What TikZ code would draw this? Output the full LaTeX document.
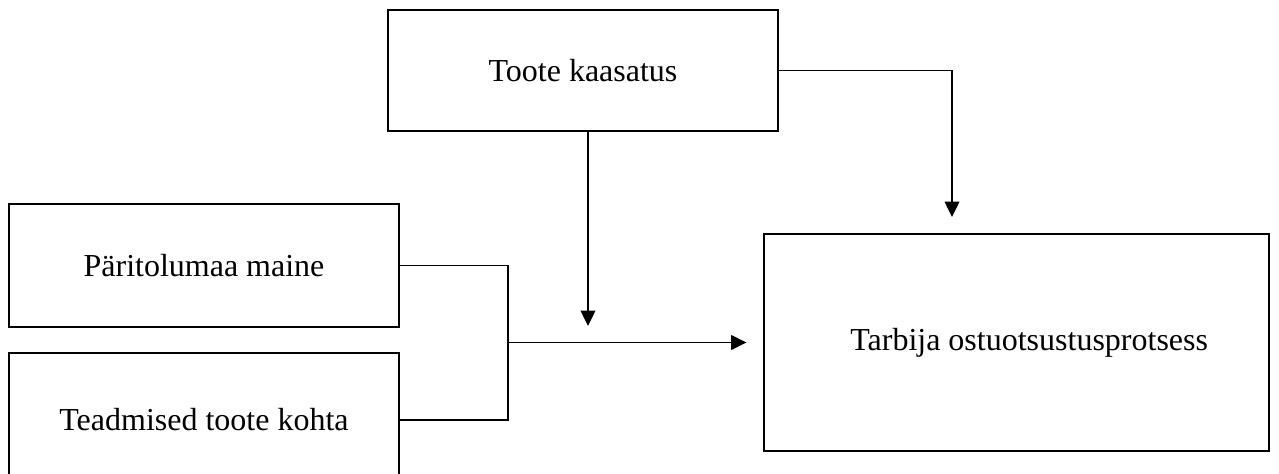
\documentclass[tikz,border=0pt]{standalone}
\usepackage{fontspec}
\setmainfont{Liberation Serif}
\usetikzlibrary{arrows.meta}
\tikzset{
  box/.style={draw, line width=2.2pt, inner sep=0pt, align=center,
    font=\fontsize{24}{28}\selectfont},
  conn/.style={line width=1pt},
  arr/.style={conn, -{Triangle[width=11pt,length=11.5pt]}}
}
\begin{document}
\begin{tikzpicture}[x=0.75pt,y=-0.75pt]
\useasboundingbox (0,0) rectangle (1279,474);
\node[box, minimum width=390*0.75pt, minimum height=121*0.75pt] (TK) at (583,70.5) {Toote kaasatus};
\node[box, minimum width=390*0.75pt, minimum height=123*0.75pt] (PM) at (204,265.5) {Päritolumaa maine};
\node[box, minimum width=390*0.75pt, minimum height=134*0.75pt] (TT) at (204,420) {Teadmised toote kohta};
\node[box, minimum width=505*0.75pt, minimum height=217*0.75pt] (TO) at (1016.5,342.5) {\hspace*{19pt}Tarbija ostuotsustusprotsess};
\coordinate (J) at (508,342.5);
\coordinate (A1) at (588,326);
\coordinate (A2) at (952,217);
\draw[conn] (PM.east) -| (J);
\draw[conn] (TT.east) -| (J);
\draw[arr, shorten >=12pt] (J) -- (TO.west);
\draw[arr] (TK.south -| A1) -- (A1);
\draw[arr] (TK.east) -| (A2);
\end{tikzpicture}
\end{document}
